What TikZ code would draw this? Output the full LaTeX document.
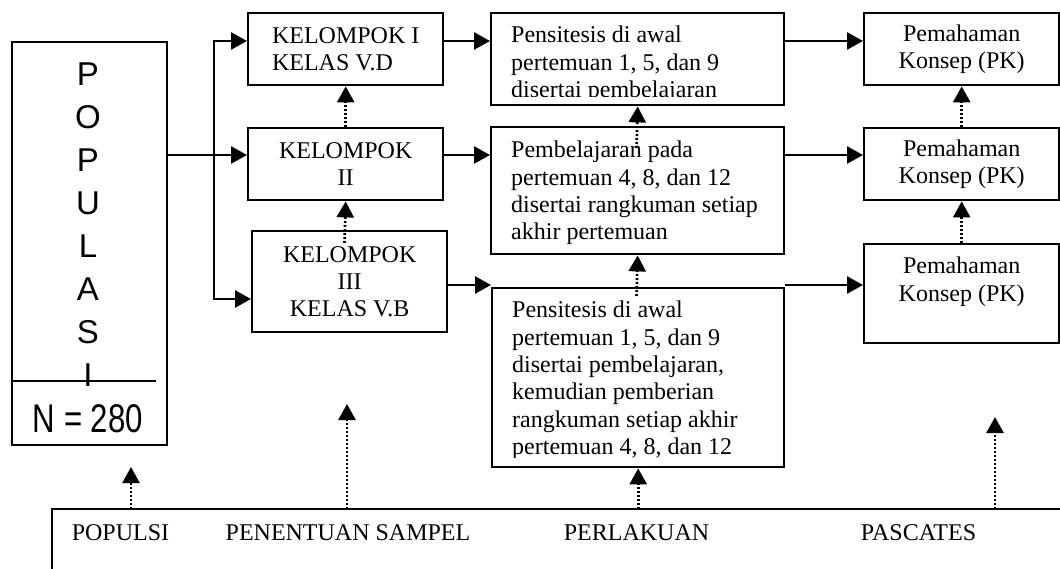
\documentclass[tikz,border=0pt]{standalone}
\usepackage{graphicx}
\usepackage{fontspec}
\setmainfont{Liberation Serif}
\newfontfamily\arialfont{Liberation Sans}
\usetikzlibrary{arrows.meta}

\begin{document}
\begin{tikzpicture}[x=1pt,y=-1pt]
	\tikzstyle{Kotak} = [rectangle, draw=black, line width=2.4pt, inner sep=0pt, anchor=north west, font=\fontsize{24}{27.3}\selectfont]
	\tikzstyle{Teks} = [inner sep=0pt, anchor=north west, align=left, font=\fontsize{24}{27.3}\selectfont]
	\tikzstyle{Tahap} = [inner sep=0pt, font=\fontsize{24}{27.3}\selectfont]
	\tikzstyle{Huruf} = [inner sep=0pt, font=\arialfont\fontsize{33}{33}\selectfont]
	\tikzstyle{arrow} = [line width=2.6pt,-{Triangle[length=16pt,width=17pt]}]
	\tikzstyle{dotarrow} = [line width=2.6pt, dash pattern=on 2pt off 2pt, -{Triangle[length=16pt,width=17pt]}]

	\useasboundingbox (0,0) rectangle (1060,569);

	% populasi
	\node (pop) [Kotak, minimum width=155pt, minimum height=403pt] at (11,41) {};
	\coordinate (garis) at (156,381);
	\draw [line width=2.4pt] (pop.west |- garis) -- (garis);
	\foreach \h [count=\i from 0] in {P,O,P,U,L,A,S,I}
		\node (huruf\i) [Huruf] at (88,{74+43*\i}) {\h};
	\node (jumlah) [Huruf, font=\arialfont\fontsize{40}{40}\selectfont] at (88,419) {\scalebox{0.78}[1]{N = 280}};

	% kelompok
	\node (k1) [Kotak, minimum width=195pt, minimum height=72pt, align=left] at (247,12) {KELOMPOK I\\KELAS V.D};
	\node (k2) [Kotak, minimum width=195pt, minimum height=72pt, align=center] at (247,127) {KELOMPOK\\II};
	\node (k3) [Kotak, minimum width=195pt, minimum height=101pt, align=center] at (251,230) {KELOMPOK\\III\\KELAS V.B};

	% perlakuan
	\node (t1) [Kotak, minimum width=293pt, minimum height=92pt] at (490,12) {};
	\node (t2) [Kotak, minimum width=293pt, minimum height=127pt] at (490,126) {};
	\node (t3) [Kotak, minimum width=292pt, minimum height=179pt] at (491,287) {};
	\begin{scope}
		\clip (t1.north west) rectangle ([yshift=10pt]t1.south east);
		\node (t1teks) [Teks] at ([shift={(21pt,-14pt)}]t1.north west) {Pensitesis di awal\\pertemuan 1, 5, dan 9\\disertai pembelajaran};
	\end{scope}
	\node (t2teks) [Teks] at ([shift={(21pt,-15pt)}]t2.north west) {Pembelajaran pada\\pertemuan 4, 8, dan 12\\disertai rangkuman setiap\\akhir pertemuan};
	\begin{scope}
		\clip (t3.north west) rectangle ([yshift=10.5pt]t3.south east);
		\node (t3teks) [Teks] at ([shift={(21pt,-14pt)}]t3.north west) {Pensitesis di awal\\pertemuan 1, 5, dan 9\\disertai pembelajaran,\\kemudian pemberian\\rangkuman setiap akhir\\pertemuan 4, 8, dan 12};
	\end{scope}

	% pascates
	\node (pk1) [Kotak, minimum width=195pt, minimum height=72pt, align=center] at (863,12) {Pemahaman\\Konsep (PK)};
	\node (pk2) [Kotak, minimum width=195pt, minimum height=72pt, align=center] at (863,127) {Pemahaman\\Konsep (PK)};
	\node (pk3) [Kotak, minimum width=195pt, minimum height=99pt] at (863,243) {};
	\node (pk3teks) [Teks, anchor=north, align=center] at ([yshift=-14pt]pk3.north) {Pemahaman\\Konsep (PK)};

	% alur
	\coordinate (r1) at (0,41);
	\coordinate (r2) at (0,155);
	\coordinate (r3) at (0,285);
	\coordinate (r3b) at (0,299);
	\coordinate (cabang) at (214,155);
	\draw [arrow] (pop.east |- r2) -- (k2.west |- r2);
	\draw [arrow] (cabang) |- (k1.west |- r1);
	\draw [arrow] (cabang) |- (k3.west |- r3b);
	\draw [arrow] (k1.east |- r1) -- (t1.west |- r1);
	\draw [arrow] (k2.east |- r2) -- (t2.west |- r2);
	\draw [arrow] (k3.east |- r3) -- (t3.west |- r3);
	\draw [arrow] (t1.east |- r1) -- (pk1.west |- r1);
	\draw [arrow] (t2.east |- r2) -- (pk2.west |- r2);
	\draw [arrow] (t3.east |- r3) -- (pk3.west |- r3);

	\coordinate (k3atas) at (344.5,243);
	\coordinate (t2dalam) at (636.5,148);
	\coordinate (t3dalam) at (636.5,296);
	\draw [dotarrow] (k2.north) -- (k1.south);
	\draw [dotarrow] (k3atas) -- (k2.south);
	\draw [dotarrow] (t2dalam) -- (t1.south);
	\draw [dotarrow] (t3dalam) -- (t2.south);
	\draw [dotarrow] (pk2.north) -- (pk1.south);
	\draw [dotarrow] (pk3.north) -- (pk2.south);

	% tahapan
	\coordinate (bingkai) at (52,509);
	\draw [line width=2.4pt] (52,580) -- (bingkai) -- (1070,509);
	\node (lpop) [Tahap] at (120.5,533) {POPULSI};
	\node (lsampel) [Tahap] at (348,533) {PENENTUAN SAMPEL};
	\node (lperlakuan) [Tahap] at (636.5,533) {PERLAKUAN};
	\node (lpascates) [Tahap] at (918.5,533) {PASCATES};
	\coordinate (b1) at (131,509);
	\coordinate (u1) at (131,467);
	\coordinate (b2) at (347,509);
	\coordinate (u2) at (347,404);
	\coordinate (b4) at (995,509);
	\coordinate (u4) at (995,417);
	\draw [dotarrow] (b1) -- (u1);
	\draw [dotarrow] (b2) -- (u2);
	\draw [dotarrow] (t3.south |- bingkai) -- (t3.south);
	\draw [dotarrow] (b4) -- (u4);
\end{tikzpicture}
\end{document}
